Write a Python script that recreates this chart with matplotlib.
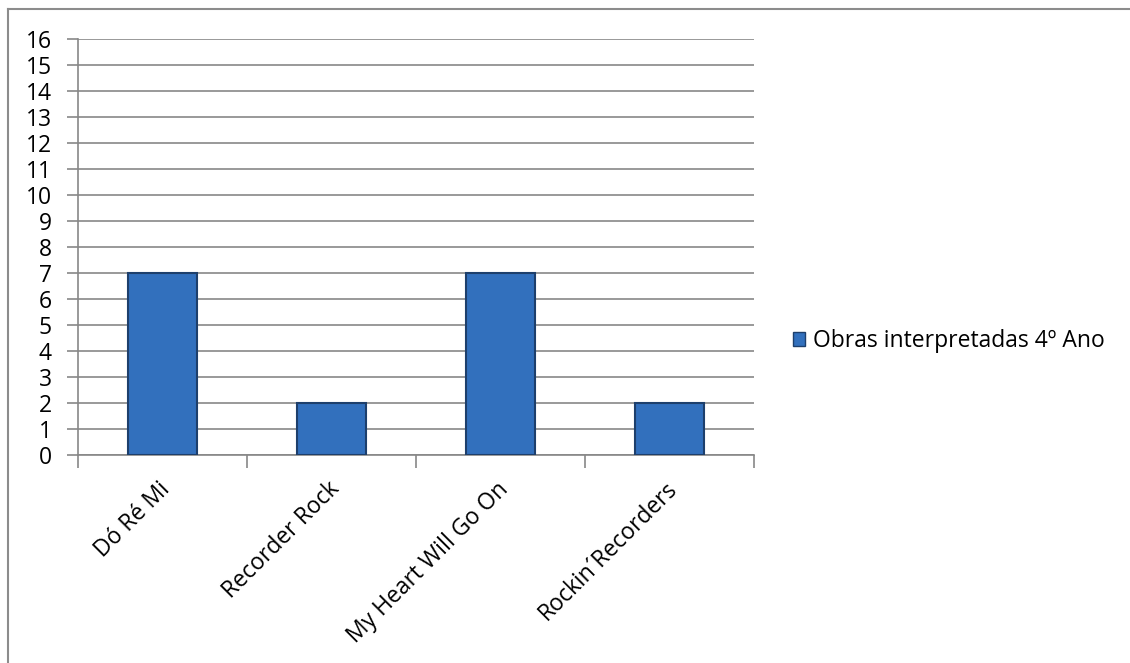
import matplotlib
matplotlib.use("Agg")
import matplotlib.pyplot as plt
from matplotlib.patches import Patch
from matplotlib.lines import Line2D

categories = ["Dó Ré Mi", "Recorder Rock", "My Heart Will Go On", "Rockin´Recorders"]
values = [7, 2, 7, 2]
series_name = "Obras interpretadas 4º Ano"
yticks = list(range(0, 17))

plt.rcParams['font.family'] = ['Open Sans', 'DejaVu Sans']
FS = 16.5

W, H = 1130, 663
fig = plt.figure(figsize=(W / 100, H / 100), dpi=100)
ax = fig.add_axes([78 / W, 1 - 455 / H, (754 - 78) / W, (455 - 39) / H])

x = list(range(len(categories)))
bar_color = '#3270bd'
edge_color = '#1d3f6c'
ax.bar(x, values, width=0.41, color=bar_color, edgecolor=edge_color, linewidth=1.5, zorder=3)

ax.set_xlim(-0.5, len(categories) - 0.5)
ax.set_ylim(0, 16)
ax.set_yticks(yticks)
ax.set_yticklabels([str(t) for t in yticks], fontsize=FS)
ax.yaxis.grid(True, color='#878787', linewidth=1.2, zorder=0)
ax.tick_params(axis='y', length=8, width=1.2, color='#878787', pad=11)

# category boundary ticks on x axis
ax.set_xticks([i + 0.5 for i in range(-1, len(categories))])
ax.set_xticklabels([''] * (len(categories) + 1))
ax.tick_params(axis='x', length=9, width=1.2, color='#878787')
for i, c in enumerate(categories):
    ax.annotate(c, xy=(i, 0), xycoords=('data', 'axes fraction'),
                xytext=(-3, -16), textcoords='offset points',
                rotation=45, ha='right', va='top', rotation_mode='anchor', fontsize=FS)

for s in ['top', 'right']:
    ax.spines[s].set_visible(False)
for s in ['left', 'bottom']:
    ax.spines[s].set_color('#878787')
    ax.spines[s].set_linewidth(1.2)

handle = Patch(facecolor=bar_color, edgecolor=edge_color)
fig.legend([handle], [series_name], loc='center left',
           bbox_to_anchor=(772 / W, 1 - 341 / H), frameon=False, fontsize=FS,
           handlelength=0.55, handleheight=0.55, handletextpad=0.35)

# outer chart-area border (top and left visible)
fig.add_artist(Line2D([8 / W, 1], [1 - 9 / H, 1 - 9 / H], color='#8c8c8c', linewidth=1.5))
fig.add_artist(Line2D([8 / W, 8 / W], [0, 1 - 9 / H], color='#8c8c8c', linewidth=1.5))

fig.savefig("out.png", dpi=100)
